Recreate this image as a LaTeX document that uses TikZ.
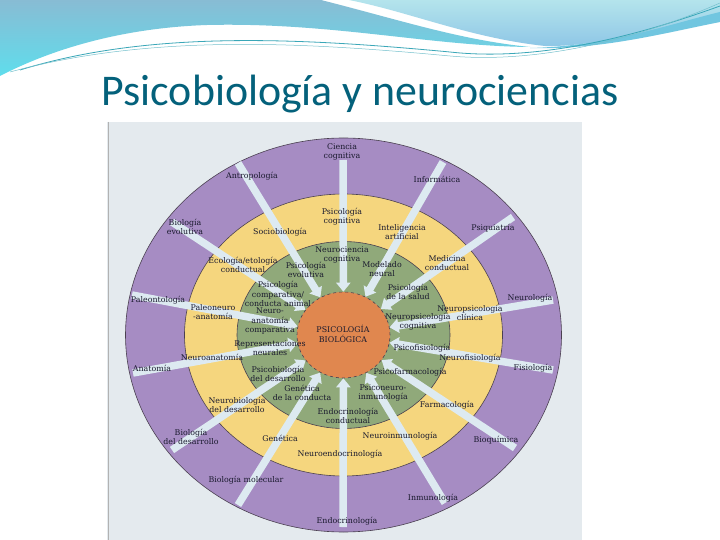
\documentclass[tikz,border=0pt]{standalone}
\usepackage{fontspec}
\setmainfont{DejaVu Serif}
\newfontfamily\titlefont{Carlito}
\usetikzlibrary{arrows.meta,shapes.geometric,calc}
\definecolor{titlecol}{HTML}{04617B}
\definecolor{bandtop}{HTML}{88BCD4}
\definecolor{bandbot}{HTML}{5FDDEC}
\definecolor{rtop}{HTML}{B4E4EC}
\definecolor{rbot}{HTML}{8EC6E6}
\definecolor{bandblue}{HTML}{4DB8D8}
\definecolor{linecol}{HTML}{3AA7B8}
\definecolor{photobg}{HTML}{E4EAEE}
\definecolor{purp}{HTML}{A68CC3}
\definecolor{yel}{HTML}{F5D67E}
\definecolor{grn}{HTML}{90A97A}
\definecolor{orng}{HTML}{E0874F}
\definecolor{raycol}{HTML}{DDEAF1}
\definecolor{ringline}{HTML}{4A4050}
\definecolor{txt}{HTML}{1A1A2E}
\begin{document}
\begin{tikzpicture}[x=1bp,y=-1bp,
  lbl/.style={align=center, font=\fontsize{7.9}{9.4}\selectfont, text=txt, inner sep=0.5pt},
  ray/.style={draw=raycol, line width=7.5bp, -{Triangle[width=14bp,length=9bp]}},
  ring/.style={draw=ringline, line width=0.6bp}]
\useasboundingbox (0,0) rectangle (720,540);
\fill[white] (0,0) rectangle (720,540);
% top decoration
\shade[top color=bandtop, bottom color=bandbot]
  (0,0) -- (321,0) .. controls (400,20) and (460,40) .. (530,47)
  .. controls (430,46) and (330,22) .. (207,25)
  .. controls (120,28) and (50,50) .. (0,76) -- cycle;
\shade[top color=rtop, bottom color=rbot]
  (349,0) -- (720,0) -- (720,14) .. controls (650,32) and (590,47) .. (545,46)
  .. controls (470,38) and (410,12) .. (349,0) -- cycle;
\fill[bandblue!80] (530,48) .. controls (610,46) and (670,24) .. (720,12)
  -- (720,22) .. controls (660,34) and (600,50) .. (530,48) -- cycle;
\draw[linecol, line width=0.8bp] (20,70) .. controls (150,30) and (300,38) .. (450,52)
  .. controls (540,62) and (640,35) .. (720,6);
\draw[linecol!70, line width=0.5bp] (10,72) .. controls (150,34) and (300,42) .. (450,56)
  .. controls (540,64) and (640,38) .. (720,3);
% title
\node[font=\titlefont\fontsize{44}{50}\selectfont, text=titlecol, anchor=base, inner sep=0] (title) at (360,106) {Psicobiología y neurociencias};
% photo background
\fill[photobg] (107,122) rectangle (582,540);
\draw[gray!60, line width=0.6bp] (108,122) -- (108,540);
% rings
\coordinate (c) at (343.5,335);
\filldraw[ring, fill=purp] (c) ellipse [x radius=218, y radius=197];
\filldraw[ring, fill=yel] (c) ellipse [x radius=159, y radius=141];
\filldraw[ring, fill=grn] (c) ellipse [x radius=106.5, y radius=93.5];
\node[ellipse, fill=orng, draw=ringline, dashed, line width=0.6bp, minimum width=93bp, minimum height=86bp, inner sep=0] (core) at (c) {};
% rays
\coordinate (s1) at (343,160);
\coordinate (s2) at (238,163);
\coordinate (s3) at (443,162);
\coordinate (s4) at (172,222);
\coordinate (s5) at (513,217);
\coordinate (s6) at (132,295);
\coordinate (s7) at (553,300);
\coordinate (s8) at (133,373);
\coordinate (s9) at (553,370);
\coordinate (s10) at (172,450);
\coordinate (s11) at (515,448);
\coordinate (s12) at (238,505);
\coordinate (s13) at (445,503);
\coordinate (s14) at (343,527);
\foreach \i in {1,...,14} {\draw[ray] (s\i) -- (core);}
% center label
\node[lbl] (ctr) at (343,334) {PSICOLOGÍA\\BIOLÓGICA};
% outer ring
\node[lbl] (o1) at (342,152) {Ciencia\\cognitiva};
\node[lbl] (o2) at (252,176) {Antropología};
\node[lbl] (o3) at (437,179) {Informática};
\node[lbl] (o4) at (185,227) {Biología\\evolutiva};
\node[lbl] (o5) at (493,228) {Psiquiatría};
\node[lbl] (o6) at (158,300) {Paleontología};
\node[lbl] (o7) at (530,298) {Neurología};
\node[lbl] (o8) at (152,368) {Anatomía};
\node[lbl] (o9) at (533,368) {Fisiología};
\node[lbl] (o10) at (191,437) {Biología\\del desarrollo};
\node[lbl] (o11) at (496,440) {Bioquímica};
\node[lbl] (o12) at (246,480) {Biología molecular};
\node[lbl] (o13) at (433,498) {Inmunología};
\node[lbl] (o14) at (347,521) {Endocrinología};
% middle ring
\node[lbl] (m1) at (342,217) {Psicología\\cognitiva};
\node[lbl] (m2) at (280,232) {Sociobiología};
\node[lbl] (m3) at (402,232) {Inteligencia\\artificial};
\node[lbl] (m4) at (243,265) {Ecología/etología\\conductual};
\node[lbl] (m5) at (447,263) {Medicina\\conductual};
\node[lbl] (m6) at (213,312) {Paleoneuro\\-anatomía};
\node[lbl] (m7) at (470,313) {Neuropsicología\\clínica};
\node[lbl] (m8) at (212,357) {Neuroanatomía};
\node[lbl] (m9) at (470,358) {Neurofisiología};
\node[lbl] (m10) at (237,405) {Neurobiología\\del desarrollo};
\node[lbl] (m11) at (447,405) {Farmacología};
\node[lbl] (m12) at (280,438) {Genética};
\node[lbl] (m13) at (400,436) {Neuroinmunología};
\node[lbl] (m14) at (340,454) {Neuroendocrinología};
% inner ring
\node[lbl] (i1) at (342,255) {Neurociencia\\cognitiva};
\node[lbl] (i2) at (306,270) {Psicología\\evolutiva};
\node[lbl] (i3) at (382,269) {Modelado\\neural};
\node[lbl] (i4) at (278,294) {Psicología\\comparativa/\\conducta animal};
\node[lbl] (i5) at (408,292) {Psicología\\de la salud};
\node[lbl] (i6) at (270,321) {Neuro-\\anatomía\\comparativa};
\node[lbl] (i7) at (418,322) {Neuropsicología\\cognitiva};
\node[lbl] (i8) at (270,348) {Representaciones\\neurales};
\node[lbl] (i9) at (422,348) {Psicofisiología};
\node[lbl] (i10) at (278,374) {Psicobiología\\del desarrollo};
\node[lbl] (i11) at (410,372) {Psicofarmacología};
\node[lbl] (i12) at (302,393) {Genética\\de la conducta};
\node[lbl] (i13) at (383,393) {Psiconeuro-\\inmunología};
\node[lbl] (i14) at (348,416) {Endocrinología\\conductual};
\end{tikzpicture}
\end{document}
